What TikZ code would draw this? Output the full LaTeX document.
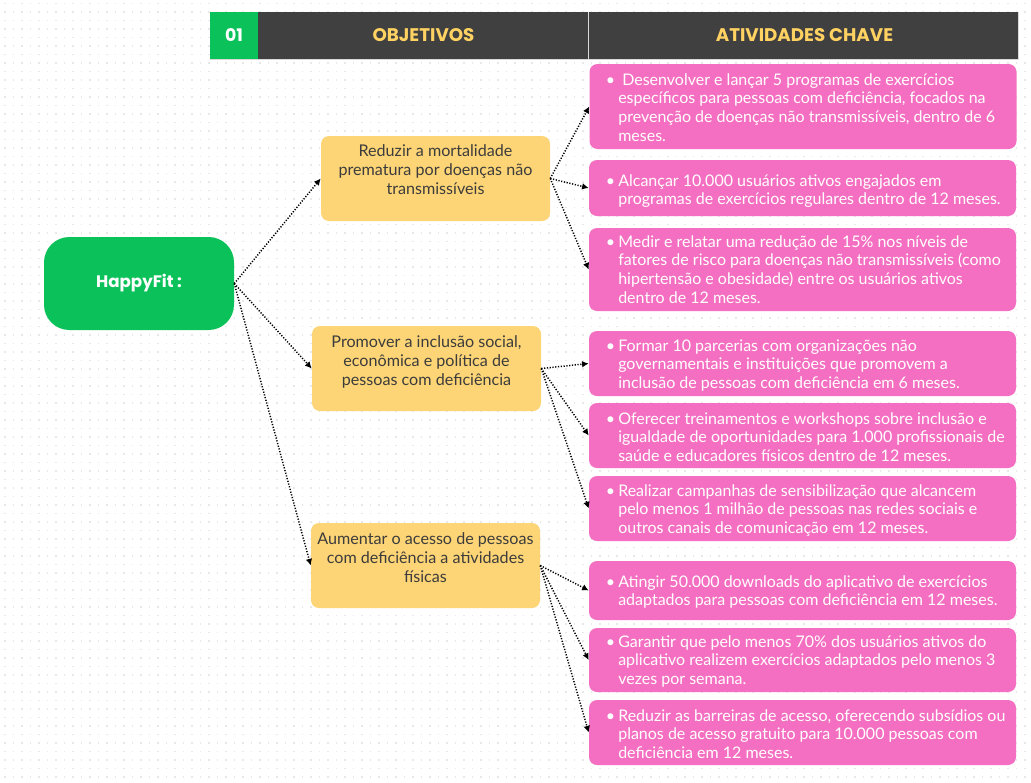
\documentclass[tikz,border=0pt]{standalone}
\usepackage{fontspec}
\setmainfont{Lato}
\newfontfamily\popp{Poppins}
\usetikzlibrary{arrows.meta}
\definecolor{pinkbox}{HTML}{F46FC1}
\definecolor{yelbox}{HTML}{FDD576}
\definecolor{grnbox}{HTML}{0BC25A}
\definecolor{darkhd}{HTML}{404040}
\definecolor{hdtext}{HTML}{FFD262}
\definecolor{ytext}{HTML}{3C3C3C}
\definecolor{dotc}{HTML}{E8E8E8}
\newcommand\ptxtl[1]{\begin{tabular}[t]{@{}l@{}}#1\end{tabular}}
\newcommand\ytxtc[1]{\begin{tabular}[t]{@{}c@{}}#1\end{tabular}}
\begin{document}
\begin{tikzpicture}[x=0.75pt,y=-0.75pt,
  pinkb/.style={fill=pinkbox,rounded corners=6pt,inner sep=0pt,minimum width=427*0.75pt},
  yelb/.style={fill=yelbox,rounded corners=6pt,inner sep=0pt,minimum width=229*0.75pt,minimum height=85*0.75pt},
  ptx/.style={text=white,inner sep=0pt,font=\fontsize{12}{14}\selectfont},
  ytx/.style={text=ytext,inner sep=0pt,font=\fontsize{12.1}{14.2}\selectfont},
  hdtx/.style={text=hdtext,inner sep=0pt,font=\popp\bfseries\fontsize{13.7}{15}\selectfont},
  conn/.style={draw=black,line width=1.1pt,dash pattern=on 0.9pt off 1.2pt,-{Latex[length=5pt,width=5pt]}}]
\useasboundingbox (0,0) rectangle (1031,782);
\fill[white] (0,0) rectangle (1031,782);
\foreach \j in {0,...,91}
  \draw[dotc,line width=1.2pt,dash pattern=on 1.2pt off 5.175pt] (4.2,{3.3+8.5*\j}) -- (1031,{3.3+8.5*\j});
% header
\fill[lightgray!60] (209.5,11.5) rectangle (1018.5,59.5);
\node[fill=grnbox,inner sep=0pt,minimum width=48*0.75pt,minimum height=47*0.75pt] (h0) at (234,35.5) {};
\node[fill=darkhd,inner sep=0pt,minimum width=330*0.75pt,minimum height=47*0.75pt] (h1) at (423,35.5) {};
\node[fill=darkhd,inner sep=0pt,minimum width=429*0.75pt,minimum height=47*0.75pt] (h2) at (803.5,35.5) {};
\node[hdtx,text=white,anchor=base,font=\popp\bfseries\fontsize{13}{15}\selectfont] (h0t) at (234,41) {01};
\node[hdtx,anchor=base] (h1t) at (423.5,41.5) {OBJETIVOS};
\node[hdtx,anchor=base] (h2t) at (804.5,41.5) {ATIVIDADES CHAVE};
% root
\node[fill=grnbox,rounded corners=19pt,inner sep=0pt,minimum width=190*0.75pt,minimum height=93*0.75pt,
  text=white,font=\popp\bfseries\fontsize{12.5}{15}\selectfont] (root) at (139,283.5) {HappyFit :};
% objectives
\node[yelb] (y1) at (435.5,178.5) {};
\node[yelb] (y2) at (426.5,368.5) {};
\node[yelb] (y3) at (425.5,565.5) {};
\node[ytx,anchor=base] (y1t) at (435.5,156.5) {\ytxtc{Reduzir a mortalidade\\prematura por doenças não\\transmissíveis}};
\node[ytx,anchor=base] (y2t) at (426.5,347.5) {\ytxtc{Promover a inclusão social,\\econômica e política de\\pessoas com deficiência}};
\node[ytx,anchor=base] (y3t) at (425.5,544.5) {\ytxtc{Aumentar o acesso de pessoas\\com deficiência a atividades\\físicas}};
% activities
\node[pinkb,minimum height=85*0.75pt] (p1) at (803,106.5) {};
\node[pinkb,minimum height=56*0.75pt] (p2) at (802.5,188) {};
\node[pinkb,minimum height=83*0.75pt] (p3) at (802.5,269.5) {};
\node[pinkb,minimum height=65*0.75pt] (p4) at (802.5,363.5) {};
\node[pinkb,minimum height=65*0.75pt] (p5) at (802.5,435.5) {};
\node[pinkb,minimum height=65*0.75pt] (p6) at (802.5,508.5) {};
\node[pinkb,minimum height=59*0.75pt] (p7) at (802.5,590.5) {};
\node[pinkb,minimum height=64*0.75pt] (p8) at (802.5,660) {};
\node[pinkb,minimum height=65*0.75pt] (p9) at (802.5,732.5) {};
\foreach \n/\yy in {1/85,2/186,3/247,4/351,5/424,6/496,7/587,8/647,9/721}
  \node[ptx,anchor=base] (b\n) at (610.5,\yy) {•};
\node[ptx,anchor=base west] (t1) at (618,85) {\ptxtl{\hspace{3pt}Desenvolver e lançar 5 programas de exercícios\\específicos para pessoas com deficiência, focados na\\prevenção de doenças não transmissíveis, dentro de 6\\meses.}};
\node[ptx,anchor=base west] (t2) at (618,186) {\ptxtl{Alcançar 10.000 usuários ativos engajados em\\programas de exercícios regulares dentro de 12 meses.}};
\node[ptx,anchor=base west] (t3) at (618,247) {\ptxtl{Medir e relatar uma redução de 15\% nos níveis de\\fatores de risco para doenças não transmissíveis (como\\hipertensão e obesidade) entre os usuários ativos\\dentro de 12 meses.}};
\node[ptx,anchor=base west] (t4) at (618,351) {\ptxtl{Formar 10 parcerias com organizações não\\governamentais e instituições que promovem a\\inclusão de pessoas com deficiência em 6 meses.}};
\node[ptx,anchor=base west] (t5) at (618,424) {\ptxtl{Oferecer treinamentos e workshops sobre inclusão e\\igualdade de oportunidades para 1.000 profissionais de\\saúde e educadores físicos dentro de 12 meses.}};
\node[ptx,anchor=base west] (t6) at (618,496) {\ptxtl{Realizar campanhas de sensibilização que alcancem\\pelo menos 1 milhão de pessoas nas redes sociais e\\outros canais de comunicação em 12 meses.}};
\node[ptx,anchor=base west] (t7) at (618,587) {\ptxtl{Atingir 50.000 downloads do aplicativo de exercícios\\adaptados para pessoas com deficiência em 12 meses.}};
\node[ptx,anchor=base west] (t8) at (618,647) {\ptxtl{Garantir que pelo menos 70\% dos usuários ativos do\\aplicativo realizem exercícios adaptados pelo menos 3\\vezes por semana.}};
\node[ptx,anchor=base west] (t9) at (618,721) {\ptxtl{Reduzir as barreiras de acesso, oferecendo subsídios ou\\planos de acesso gratuito para 10.000 pessoas com\\deficiência em 12 meses.}};
% connectors
\draw[conn] (root.east) -- (y1.west);
\draw[conn] (root.east) -- (y2.west);
\draw[conn] (root.east) -- (y3.west);
\draw[conn] (y1.east) -- (p1.west);
\draw[conn] (y1.east) -- (p2.west);
\draw[conn] (y1.east) -- (p3.west);
\draw[conn] (y2.east) -- (p4.west);
\draw[conn] (y2.east) -- (p5.west);
\draw[conn] (y2.east) -- (p6.west);
\draw[conn] (y3.east) -- (p7.west);
\draw[conn] (y3.east) -- (p8.west);
\draw[conn] (y3.east) -- (p9.west);
\end{tikzpicture}
\end{document}
